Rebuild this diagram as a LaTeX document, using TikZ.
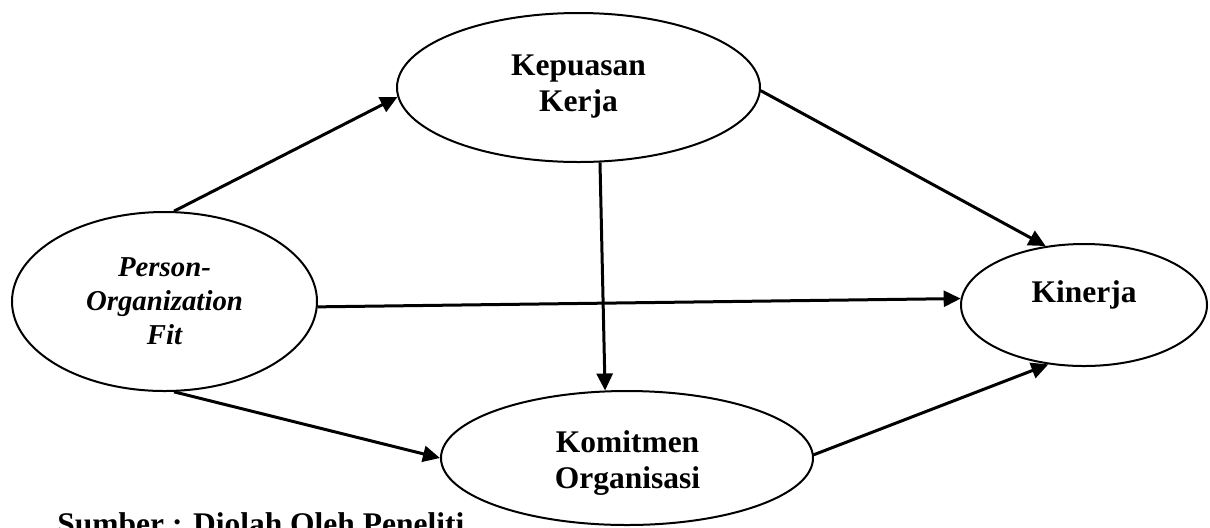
\documentclass[tikz,border=0pt]{standalone}
\usepackage{fontspec}
\setmainfont{Liberation Serif}
\usetikzlibrary{arrows.meta,shapes.geometric}
\begin{document}
\begin{tikzpicture}[x=0.5pt,y=-0.5pt,
  oval/.style={draw, ellipse, line width=1pt, inner sep=0pt},
  lbl/.style={font=\fontsize{15.75}{18}\selectfont\bfseries, align=center},
  lbli/.style={font=\fontsize{14.4}{17}\selectfont\bfseries\itshape, align=center},
  link/.style={line width=1.5pt, -{Triangle[length=8.5pt,width=8pt]}}]
\useasboundingbox (0,0) rectangle (1210,527);
\clip (0,0) rectangle (1210,527);
% ellipses
\node[oval, minimum width=181.5pt, minimum height=74.5pt] (kep) at (578.5,87.5) {};
\node[oval, minimum width=152.5pt, minimum height=89.5pt] (per) at (164.5,301.5) {};
\node[oval, minimum width=123pt, minimum height=61pt] (kin) at (1084,305) {};
\node[oval, minimum width=186pt, minimum height=67pt] (kom) at (627,458) {};
% texts
\node[lbl] (tkep) at (578.5,87) {Kepuasan\\Kerja};
\node[lbli] (tper) at (164.5,301.5) {Person-\\Organization\\Fit};
\node[lbl, anchor=base] (tkin) at (1084,302) {Kinerja};
\node[lbl] (tkom) at (627.5,463.5) {Komitmen\\Organisasi};
\node[lbl, anchor=base west, inner sep=0pt] (src) at (57,534) {Sumber : Diolah Oleh Peneliti};
% connectors
\draw[link] (per.84) -- (kep.-177);
\draw[link] (kep.-1.7) -- (kin.123);
\draw[link] (kep.-74.4) -- (kom.108.2);
\draw[link] (per.-2) -- (kin.177);
\draw[link] (per.-84.6) -- (kom.180);
\draw[link] (kom.1) -- (kin.-121.8);
\end{tikzpicture}
\end{document}
